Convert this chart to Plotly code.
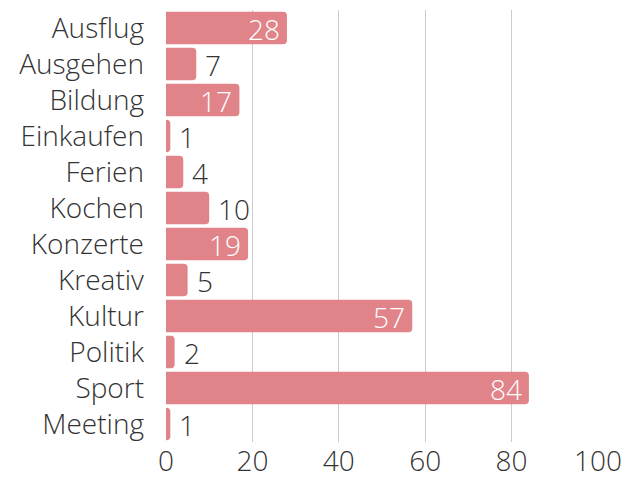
import plotly.graph_objects as go

categories = ["Ausflug", "Ausgehen", "Bildung", "Einkaufen", "Ferien", "Kochen",
              "Konzerte", "Kreativ", "Kultur", "Politik", "Sport", "Meeting"]
values = [28, 7, 17, 1, 4, 10, 19, 5, 57, 2, 84, 1]
x_ticks = [0, 20, 40, 60, 80, 100]

FONT = "Open Sans"
inside = [v >= 15 for v in values]

fig = go.Figure(go.Bar(
    x=values, y=categories, orientation="h",
    marker=dict(color="#e0848a", line=dict(width=0)),
    cliponaxis=False,
    hoverinfo="skip",
))

for v, c, ins in zip(values, categories, inside):
    if ins:
        fig.add_annotation(x=v, y=c, text=str(v), showarrow=False, xanchor="right",
                           xshift=-5, yshift=-1,
                           font=dict(color="white", size=28, family=FONT, weight=300))
    else:
        fig.add_annotation(x=v, y=c, text=str(v), showarrow=False, xanchor="left",
                           xshift=7, yshift=-1,
                           font=dict(color="#333333", size=28, family=FONT, weight=300))

fig.update_layout(
    width=624, height=483,
    margin=dict(l=166, r=26, t=10, b=41, autoexpand=False),
    paper_bgcolor="white", plot_bgcolor="white",
    bargap=0.1,
    barcornerradius=4,
    font=dict(family=FONT, size=28, color="#333333", weight=300),
    showlegend=False,
    xaxis=dict(range=[0, 100], tickvals=x_ticks, showgrid=True, gridcolor="#cccccc",
               gridwidth=1, zeroline=False, showline=False, ticks="",
               automargin=False, tickfont=dict(size=28, color="#333333")),
    yaxis=dict(range=[len(categories) - 0.5, -0.5], autorange=False,
               showgrid=False, zeroline=False, showline=False,
               ticks="", ticklabelstandoff=21, automargin=False,
               tickfont=dict(size=28, color="#333333")),
)

fig.write_html("out.html", config={"displayModeBar": False},
               post_script="document.body.style.margin='0';")
